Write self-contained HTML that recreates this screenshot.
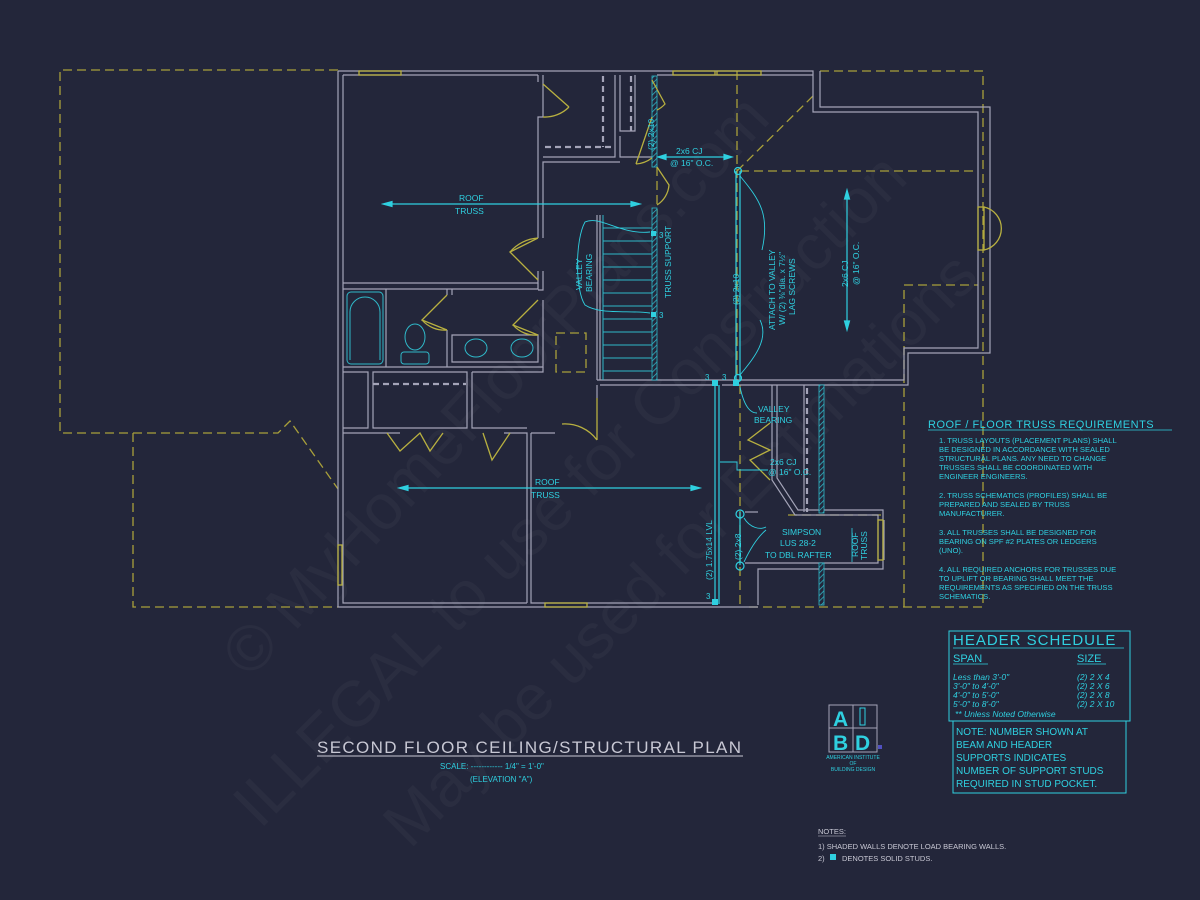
<!DOCTYPE html>
<html><head><meta charset="utf-8"><style>
html,body{margin:0;padding:0;background:#23263a;}
svg{display:block;}
text{font-family:"Liberation Sans",sans-serif;}
</style></head><body>
<svg width="1200" height="900" viewBox="0 0 1200 900" xmlns="http://www.w3.org/2000/svg">
<rect width="1200" height="900" fill="#23263a"/>
<defs>
<pattern id="hat" width="4" height="4" patternUnits="userSpaceOnUse" patternTransform="rotate(45)">
<rect width="4" height="4" fill="#23263a"/><line x1="0" y1="0" x2="0" y2="4" stroke="#2fb8c8" stroke-width="1.5"/></pattern>
</defs>
<!-- watermark -->
<g fill="#ffffff" fill-opacity="0.035" font-family="Liberation Serif" font-size="64">
<text transform="translate(250,680) rotate(-47)">© MyHomeFloorPlans.com</text>
<text transform="translate(260,830) rotate(-45)">ILLEGAL to use for Construction</text>
<text transform="translate(410,850) rotate(-45)">May be used for Estimations</text>
</g>

<!-- yellow dashed roof outlines -->
<g fill="none" stroke="#a9a03a" stroke-width="1.3" stroke-dasharray="9,5">
<path d="M338,70 H60 V433 H278 L290,421 L338,489"/>
<path d="M133,433 V607 H338"/>
<path d="M820,71 H983 V607 H745"/>
<path d="M737,71 V380"/>
<path d="M740,171 H978"/>
<path d="M737,171 L815,94"/>
<path d="M904,607 V285 H978"/>
<path d="M657,167 V215"/>
<path d="M740,385 V606"/>
<path d="M788,515 H883"/>
<rect x="556" y="333" width="30" height="39"/>
</g>

<!-- walls -->
<g fill="none" stroke="#a4a4b8" stroke-width="1.2">
<path d="M338,71 H813 V112 H978 V348 H904 V380 H657"/>
<path d="M343,75 H538"/>
<path d="M338,71 V607 H758"/>
<path d="M343,75 V603 H527"/>
<path d="M820,71 V107 H990 V353 H908 V385 H722"/>
<path d="M657,75 H813"/>
<path d="M343,283 H538 V271"/><path d="M538,238 V117 L543,117 V75"/>
<path d="M543,238 V162 H620"/>
<path d="M538,75 V82"/>
<path d="M543,157 H615 V75"/><path d="M620,75 V131 H635 V75"/>
<path d="M620,136 V157 H652"/>
<path d="M343,289 H538 V283"/><path d="M543,271 V290 H538"/>
<path d="M343,367 H543 V300"/>
<path d="M386,289 V367"/><path d="M447,289 V295"/><path d="M452,289 V295"/>
<path d="M447,330 V367"/><path d="M452,335 H538 V362 H452 Z"/>
<path d="M343,372 H368 V428 H343"/>
<path d="M373,372 H467 V428 H373 Z"/>
<path d="M472,372 H543 V367"/>
<path d="M472,372 V428 H527"/>
<path d="M343,433 H400"/><path d="M504,433 H527 V603"/>
<path d="M531,433 H555"/><path d="M531,433 V603 H715"/>
<path d="M597,385 V398"/><path d="M597,380 H657"/>
<path d="M600,385 H715"/>
<path d="M597,215 V380"/><path d="M600,215 V380"/>
<path d="M772,385 V480 L795,515 H878 V563 H745"/>
<path d="M745,512 H758"/>
<path d="M777,385 V478 L798,510 H883 V569 H758 V605"/>
<path d="M804,385 V512"/>
<path d="M884,520 V560"/>
</g>
<g stroke="#2fb8c8" stroke-width="1">
<path d="M603,228H652M603,241H652M603,254H652M603,267H652M603,280H652M603,293H652M603,306H652M603,319H652M603,332H652M603,345H652M603,358H652M603,371H652"/>
<line x1="603" y1="215" x2="603" y2="380"/>
</g>
<g stroke="#a4a4b8" stroke-width="2.2" stroke-dasharray="6,4" fill="none">
<path d="M545,147 H614"/><path d="M603,76 V147"/><path d="M631,76 V131"/>
<path d="M373,384 H466"/>
<path d="M807,388 V512"/>
</g>
<rect x="652" y="76" width="5" height="91" fill="url(#hat)" stroke="#2fb8c8" stroke-width="0.8"/>
<rect x="652" y="208" width="5" height="172" fill="url(#hat)" stroke="#2fb8c8" stroke-width="0.8"/>
<rect x="819" y="385" width="5" height="128" fill="url(#hat)" stroke="#2fb8c8" stroke-width="0.8"/>
<rect x="819" y="563" width="5" height="42" fill="url(#hat)" stroke="#2fb8c8" stroke-width="0.8"/>

<g fill="none" stroke="#b8b040" stroke-width="1.3">
<rect x="359" y="71" width="42" height="4"/>
<rect x="673" y="71" width="42" height="4"/><rect x="717" y="71" width="44" height="4"/>
<rect x="978" y="207" width="6" height="43"/>
<rect x="338" y="545" width="4" height="40"/>
<rect x="545" y="603" width="42" height="4"/>
<rect x="878" y="520" width="5" height="40"/>
<path d="M984,207 A22,22 0 0 1 984,250"/>
</g>
<g fill="none" stroke="#b8b040" stroke-width="1.3">
<path d="M543,84 L569,107 M569,107 A34,34 0 0 1 543,117"/>
<path d="M652,80 L665,104 A26,26 0 0 1 657,110"/>
<path d="M652,117 L636,164 M636,164 A30,30 0 0 0 652,158"/>
<path d="M657,167 L669,185 A26,26 0 0 1 657,205"/>
<path d="M538,238 L510,252 L538,280"/><path d="M510,252 A40,40 0 0 1 538,238"/>
<path d="M447,295 L422,320 L447,330"/><path d="M422,320 A30,30 0 0 0 447,330"/>
<path d="M538,300 L513,325 L538,335"/><path d="M513,325 A30,30 0 0 0 538,335"/>
<path d="M387,433 L400,451 L420,433 L430,451 L443,433"/>
<path d="M483,433 L492,460 L510,433"/>
<path d="M597,398 V440 M597,440 A40,40 0 0 0 562,424"/>
<path d="M770,423 L748,440 L770,450 L750,460 L770,480"/>
</g>

<g fill="none" stroke="#2fb8c8" stroke-width="1">
<rect x="347" y="292" width="36" height="72" rx="4"/>
<path d="M350,360 V312 A15,15 0 0 1 380,312 V360"/>
<ellipse cx="415" cy="337" rx="10" ry="13"/><rect x="401" y="352" width="28" height="12" rx="3"/>
<ellipse cx="476" cy="348" rx="11" ry="9"/><ellipse cx="522" cy="348" rx="11" ry="9"/>
</g>

<g stroke="#2fd0e0" stroke-width="1.2" fill="none">
<path d="M736,171 V380 M740,171 V380"/>
<path d="M715,385 V604 M719,385 V604"/>
<path d="M740,512 V565"/>
<circle cx="738" cy="171" r="3.5"/><circle cx="738" cy="378" r="3.5"/>
<circle cx="740" cy="514" r="4"/><circle cx="740" cy="566" r="4"/>
</g>
<g fill="#2fd0e0">
<rect x="651" y="231" width="5" height="5"/><rect x="651" y="312" width="5" height="5"/>
<rect x="712" y="380" width="6" height="6"/><rect x="733" y="380" width="6" height="6"/>
<rect x="712" y="599" width="6" height="6"/>
</g>
<g stroke="#2fd0e0" stroke-width="1.2" fill="#2fd0e0">
<line x1="388" y1="204" x2="635" y2="204"/><path d="M383,204 l9,-2.5 v5z M640,204 l-9,-2.5 v5z"/>
<line x1="404" y1="488" x2="695" y2="488"/><path d="M399,488 l9,-2.5 v5z M700,488 l-9,-2.5 v5z"/>
<line x1="847" y1="195" x2="847" y2="325"/><path d="M847,190 l-2.5,9 h5z M847,330 l-2.5,-9 h5z"/>
<line x1="662" y1="157" x2="728" y2="157"/><path d="M658,157 l8,-2.5 v5z M732,157 l-8,-2.5 v5z"/>
<line x1="852" y1="528" x2="852" y2="562" stroke-width="0.8"/>
</g>
<g stroke="#2fd0e0" stroke-width="0.9" fill="none">
<path d="M650,232 C620,235 600,215 585,222 C575,240 575,290 585,305 C600,315 630,310 650,313"/>
<path d="M740,176 C760,200 770,215 762,250"/><path d="M760,320 C770,340 752,360 740,375"/>
<path d="M740,387 C745,410 752,413 757,413"/>
<path d="M744,518 C750,528 760,530 766,527 M744,562 C752,545 760,535 766,530"/>
<path d="M720,462 H737 V470 L768,470"/>
</g>
<g fill="#2fd0e0" font-size="8.5">
<text x="459" y="201">ROOF</text><text x="455" y="214">TRUSS</text>
<text x="535" y="485">ROOF</text><text x="531" y="498">TRUSS</text>
<text x="676" y="154">2x6 CJ</text><text x="670" y="166">@ 16" O.C.</text>
<text x="758" y="412">VALLEY</text><text x="754" y="423">BEARING</text>
<text x="770" y="465">2x6 CJ</text><text x="768" y="475">@ 16" O.C.</text>
<text x="782" y="535">SIMPSON</text><text x="780" y="546">LUS 28-2</text><text x="765" y="558">TO DBL RAFTER</text>
<text x="705" y="380" font-size="8">3</text><text x="722" y="380" font-size="8">3</text>
<text x="706" y="599" font-size="8">3</text>
<text x="659" y="238" font-size="8">3</text><text x="659" y="318" font-size="8">3</text>
<text transform="translate(654,150) rotate(-90)">(2) 2x10</text>
<text transform="translate(671,298) rotate(-90)">TRUSS SUPPORT</text>
<text transform="translate(582,290) rotate(-90)">VALLEY</text>
<text transform="translate(592,292) rotate(-90)">BEARING</text>
<text transform="translate(739,305) rotate(-90)">(2) 2x10</text>
<text transform="translate(775,330) rotate(-90)">ATTACH TO VALLEY</text>
<text transform="translate(785,325) rotate(-90)">W/ (2) ⅜"dia. x 7½"</text>
<text transform="translate(795,315) rotate(-90)">LAG SCREWS</text>
<text transform="translate(848,287) rotate(-90)">2x6 CJ</text>
<text transform="translate(859,285) rotate(-90)">@ 16" O.C.</text>
<text transform="translate(712,580) rotate(-90)">(2) 1.75x14 LVL</text>
<text transform="translate(741,560) rotate(-90)">(2) 2x8</text>
<text transform="translate(858,557) rotate(-90)">ROOF</text>
<text transform="translate(867,560) rotate(-90)">TRUSS</text>
</g>

<g fill="#2fd0e0" font-size="10">
<text x="928" y="428" font-size="11" letter-spacing="0.5">ROOF / FLOOR  TRUSS REQUIREMENTS</text>
<line x1="928" y1="430" x2="1172" y2="430" stroke="#2fd0e0" stroke-width="0.8"/>
</g>
<g fill="#2fd0e0" font-size="7.6">
<text x="939" y="443">1. TRUSS LAYOUTS (PLACEMENT PLANS) SHALL</text>
<text x="939" y="452">BE DESIGNED IN ACCORDANCE WITH SEALED</text>
<text x="939" y="461">STRUCTURAL PLANS. ANY NEED TO CHANGE</text>
<text x="939" y="470">TRUSSES SHALL BE COORDINATED WITH</text>
<text x="939" y="479">ENGINEER ENGINEERS.</text>
<text x="939" y="498">2. TRUSS SCHEMATICS (PROFILES) SHALL BE</text>
<text x="939" y="507">PREPARED AND SEALED BY TRUSS</text>
<text x="939" y="516">MANUFACTURER.</text>
<text x="939" y="535">3. ALL TRUSSES SHALL BE DESIGNED FOR</text>
<text x="939" y="544">BEARING ON SPF #2 PLATES OR LEDGERS</text>
<text x="939" y="553">(UNO).</text>
<text x="939" y="572">4. ALL REQUIRED ANCHORS FOR TRUSSES DUE</text>
<text x="939" y="581">TO UPLIFT OR BEARING SHALL MEET THE</text>
<text x="939" y="590">REQUIREMENTS AS SPECIFIED ON THE TRUSS</text>
<text x="939" y="599">SCHEMATICS.</text>
</g>
<g fill="none" stroke="#2fd0e0" stroke-width="1">
<rect x="949" y="631" width="181" height="90"/>
<rect x="953" y="721" width="173" height="72"/>
</g>
<g fill="#2fd0e0">
<text x="953" y="645" font-size="15" letter-spacing="1">HEADER SCHEDULE</text>
<line x1="953" y1="648" x2="1124" y2="648" stroke="#2fd0e0" stroke-width="0.8"/>
<text x="953" y="662" font-size="11">SPAN</text><line x1="953" y1="664" x2="988" y2="664" stroke="#2fd0e0" stroke-width="0.8"/>
<text x="1077" y="662" font-size="11">SIZE</text><line x1="1077" y1="664" x2="1106" y2="664" stroke="#2fd0e0" stroke-width="0.8"/>
<g font-size="8.5" font-style="italic">
<text x="953" y="680">Less than 3'-0"</text><text x="1077" y="680">(2) 2 X 4</text>
<text x="953" y="689">3'-0" to 4'-0"</text><text x="1077" y="689">(2) 2 X 6</text>
<text x="953" y="698">4'-0" to 5'-0"</text><text x="1077" y="698">(2) 2 X 8</text>
<text x="953" y="707">5'-0" to 8'-0"</text><text x="1077" y="707">(2) 2 X 10</text>
<text x="955" y="717">**    Unless Noted Otherwise</text>
</g>
<g font-size="10">
<text x="956" y="735">NOTE: NUMBER SHOWN AT</text>
<text x="956" y="748">BEAM AND HEADER</text>
<text x="956" y="761">SUPPORTS INDICATES</text>
<text x="956" y="774">NUMBER OF SUPPORT STUDS</text>
<text x="956" y="787">REQUIRED IN STUD POCKET.</text>
</g>
</g>
<g>
<text x="317" y="753" font-size="17" fill="#c8c8d4" letter-spacing="1" textLength="425">SECOND FLOOR CEILING/STRUCTURAL PLAN</text>
<line x1="317" y1="756" x2="743" y2="756" stroke="#c8c8d4" stroke-width="1"/>
<text x="440" y="769" font-size="8" fill="#2fd0e0">SCALE: ------------ 1/4" = 1'-0"</text>
<text x="470" y="782" font-size="8" fill="#2fd0e0">(ELEVATION "A")</text>
</g>
<g>
<rect x="829" y="705" width="48" height="47" fill="none" stroke="#a4a4b8" stroke-width="1"/>
<line x1="853" y1="705" x2="853" y2="752" stroke="#a4a4b8"/><line x1="829" y1="728" x2="877" y2="728" stroke="#a4a4b8"/>
<text x="833" y="726" font-size="21" font-weight="bold" fill="#2fd0e0">A</text>
<rect x="860" y="708" width="5" height="17" fill="none" stroke="#2fd0e0"/>
<text x="833" y="750" font-size="21" font-weight="bold" fill="#2fd0e0">B</text>
<text x="855" y="750" font-size="21" font-weight="bold" fill="#2fd0e0">D</text>
<rect x="878" y="745" width="4" height="4" fill="#5050c0"/>
<g fill="#2fd0e0" font-size="5" text-anchor="middle">
<text x="853" y="759">AMERICAN INSTITUTE</text><text x="853" y="765">OF</text><text x="853" y="771">BUILDING DESIGN</text>
</g>
</g>
<g fill="#c8c8d4" font-size="7.5">
<text x="818" y="834">NOTES:</text><line x1="818" y1="836" x2="846" y2="836" stroke="#c8c8d4" stroke-width="0.6"/>
<text x="818" y="849">1) SHADED WALLS DENOTE LOAD BEARING WALLS.</text>
<text x="818" y="861">2)</text><rect x="830" y="854" width="6" height="6" fill="#2fd0e0"/>
<text x="842" y="861">DENOTES SOLID STUDS.</text>
</g>
</svg>
</body></html>
